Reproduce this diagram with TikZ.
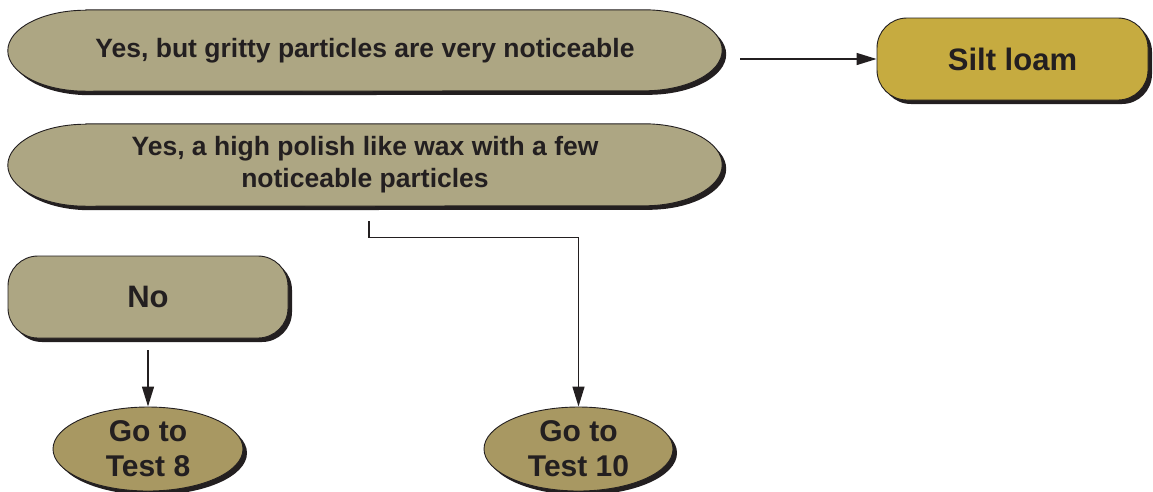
\documentclass[tikz,border=0pt]{standalone}
\usepackage{fontspec}
\setmainfont{Liberation Sans}
\usetikzlibrary{arrows.meta,shapes.geometric,shadows,backgrounds}

\definecolor{ink}{HTML}{231F20}
\definecolor{khaki}{HTML}{ADA683}
\definecolor{gold}{HTML}{C6AB40}
\definecolor{olive}{HTML}{A89862}

\tikzset{
  solid shadow/.style={general shadow={shadow xshift=4pt, shadow yshift=-4pt, fill=ink}},
  answer/.style={inner sep=0pt, text=ink, align=center,
    font=\fontsize{26.5}{32}\selectfont\bfseries},
  capsule/.style={draw=ink, line width=0.9pt, fill=khaki, solid shadow},
  pill/.style={draw=ink, line width=0.9pt, fill=khaki, solid shadow,
    rounded corners=30pt, minimum width=280pt, minimum height=82pt,
    font=\fontsize{31}{36}\selectfont\bfseries, text=ink},
  result/.style={pill, fill=gold, minimum width=271pt},
  goto/.style={ellipse, draw=ink, line width=0.9pt, fill=olive, solid shadow,
    inner sep=0pt, minimum width=190pt, minimum height=84pt, align=center,
    font=\fontsize{30}{35}\selectfont\bfseries, text=ink},
  arr/.style={draw=ink, line width=1.4pt, -{Triangle[length=20pt,width=12pt]}},
}

% capsule outline with half-ellipse ends around a node: node, end x-radius, half height
\newcommand\capsulepath[3]{%
  \path[capsule] ([xshift=#2]#1.north west) -- ([xshift=-#2]#1.north east)
    arc[start angle=90, end angle=-90, x radius=#2, y radius=#3]
    -- ([xshift=#2]#1.south west)
    arc[start angle=270, end angle=90, x radius=#2, y radius=#3] -- cycle;}

\begin{document}
\begin{tikzpicture}[x=1pt,y=1pt]
  \useasboundingbox (0,0) rectangle (1153,-491);

  % answer capsules
  \node[answer, minimum width=714pt, minimum height=81pt] (b1) at (365,-50.5)
    {Yes, but gritty particles are very noticeable};
  \node[answer, minimum width=714pt, minimum height=82pt] (b2) at (365,-165)
    {Yes, a high polish like wax with a few\\noticeable particles};
  \begin{pgfonlayer}{background}
    \capsulepath{b1}{78pt}{40.5pt}
    \capsulepath{b2}{78pt}{41pt}
  \end{pgfonlayer}

  \node[pill] (no) at (148,-297) {No};
  \node[result] (silt) at (1012.5,-59) {Silt loam};

  \node[goto] (t8) at (148,-449) {Go to\\Test 8};
  \node[goto, minimum width=189pt] (t10) at (578.5,-449) {Go to\\Test 10};

  % connectors
  \draw[arr] ([xshift=18pt]b1.east |- silt.west) -- (silt.west);
  \draw[arr] ([shift={(4pt,-15pt)}]b2.south) -- ++(0,-16) -| (t10.north);
  \draw[arr] ([yshift=-12pt]no.south) -- (t8.north);
\end{tikzpicture}
\end{document}
